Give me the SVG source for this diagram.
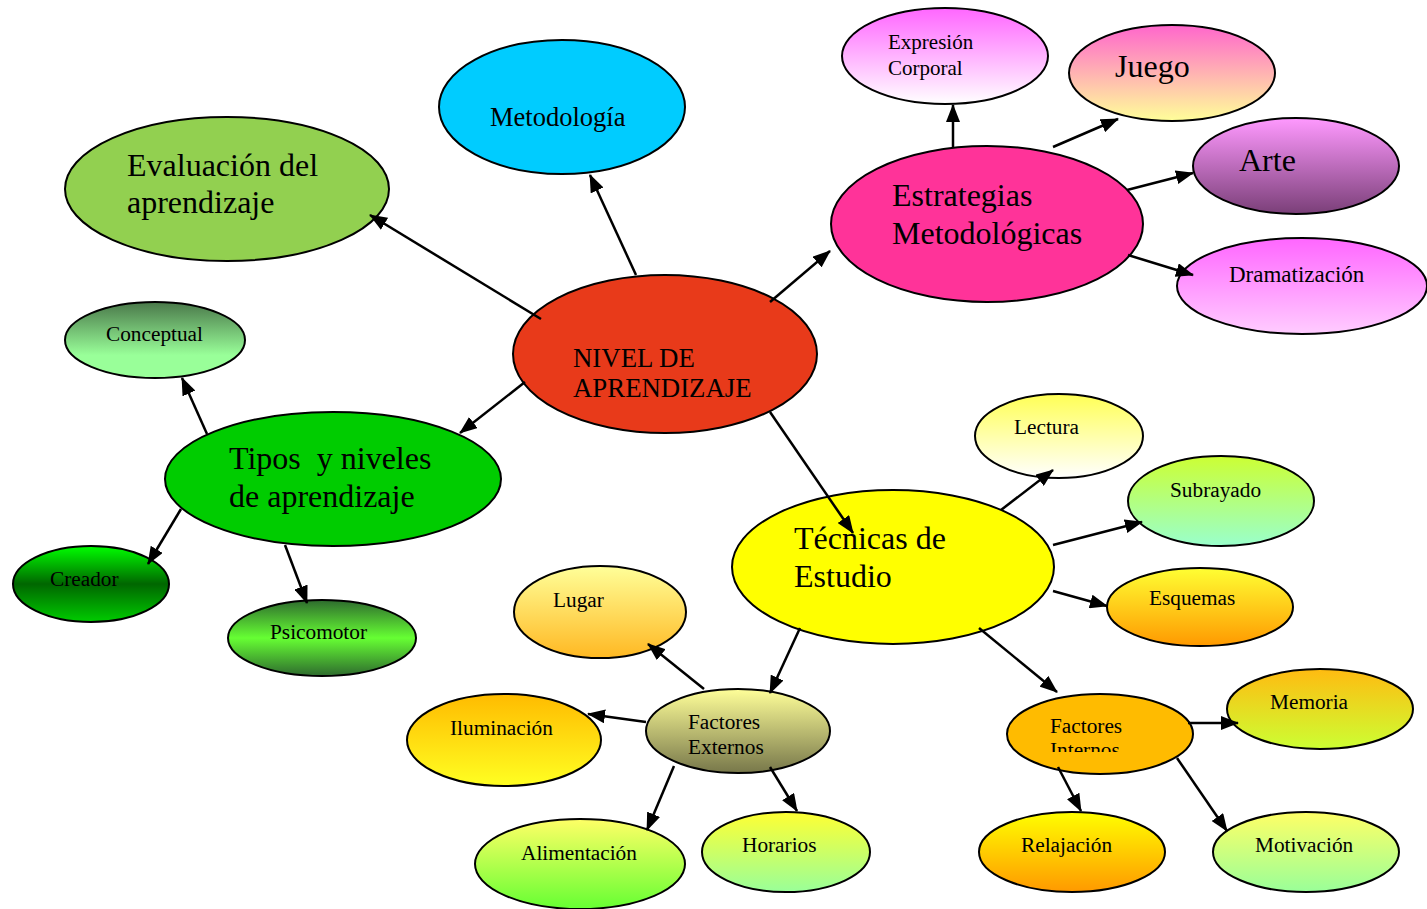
<svg xmlns="http://www.w3.org/2000/svg" width="1427" height="909" viewBox="0 0 1427 909">
<defs>
<style>
ellipse{stroke:#000;stroke-width:2}
text{font-family:"Liberation Serif","Times New Roman",serif;fill:#000}
.big{font-size:32px}
.mid{font-size:26.5px}
.sm{font-size:21.3px}
.conn line{stroke:#000;stroke-width:2.5;marker-end:url(#ah)}
</style>
<marker id="ah" markerUnits="userSpaceOnUse" markerWidth="18" markerHeight="14" refX="17" refY="7" orient="auto"><path d="M0,0 L18,7 L0,14 z" fill="#000"/></marker>
<linearGradient id="gExp" x1="0" y1="0" x2="0" y2="1"><stop offset="0" stop-color="#FF66FF"/><stop offset="1" stop-color="#FFFFFF"/></linearGradient>
<linearGradient id="gJue" x1="0" y1="0" x2="0" y2="1"><stop offset="0" stop-color="#FF66CC"/><stop offset="1" stop-color="#FFFF99"/></linearGradient>
<linearGradient id="gArt" x1="0" y1="0" x2="0" y2="1"><stop offset="0" stop-color="#FF99FF"/><stop offset="1" stop-color="#7A3F78"/></linearGradient>
<linearGradient id="gDra" x1="0" y1="0" x2="0" y2="1"><stop offset="0" stop-color="#FF66FF"/><stop offset="1" stop-color="#FFCCFF"/></linearGradient>
<linearGradient id="gCon" x1="0" y1="0" x2="0" y2="1"><stop offset="0" stop-color="#4A784A"/><stop offset="0.7" stop-color="#99FF99"/><stop offset="1" stop-color="#99FF99"/></linearGradient>
<linearGradient id="gCre" x1="0" y1="0" x2="0" y2="1"><stop offset="0" stop-color="#00FF00"/><stop offset="0.5" stop-color="#006600"/><stop offset="1" stop-color="#00CC00"/></linearGradient>
<linearGradient id="gPsi" x1="0" y1="0" x2="0" y2="1"><stop offset="0" stop-color="#2E6B2E"/><stop offset="0.5" stop-color="#66FF33"/><stop offset="1" stop-color="#2E6B2E"/></linearGradient>
<linearGradient id="gLec" x1="0" y1="0" x2="0" y2="1"><stop offset="0" stop-color="#FFFF55"/><stop offset="1" stop-color="#FFFFFF"/></linearGradient>
<linearGradient id="gSub" x1="0" y1="0" x2="0" y2="1"><stop offset="0" stop-color="#CCFF33"/><stop offset="1" stop-color="#99FFCC"/></linearGradient>
<linearGradient id="gEsq" x1="0" y1="0" x2="0" y2="1"><stop offset="0" stop-color="#FFFF33"/><stop offset="1" stop-color="#FF9900"/></linearGradient>
<linearGradient id="gMem" x1="0" y1="0" x2="0" y2="1"><stop offset="0" stop-color="#FFBB11"/><stop offset="1" stop-color="#CCFF33"/></linearGradient>
<linearGradient id="gRel" x1="0" y1="0" x2="0" y2="1"><stop offset="0" stop-color="#FFFF00"/><stop offset="1" stop-color="#FF9900"/></linearGradient>
<linearGradient id="gMot" x1="0" y1="0" x2="0" y2="1"><stop offset="0" stop-color="#FFFF66"/><stop offset="1" stop-color="#99FF99"/></linearGradient>
<linearGradient id="gLug" x1="0" y1="0" x2="0" y2="1"><stop offset="0" stop-color="#FFFF99"/><stop offset="1" stop-color="#FFB822"/></linearGradient>
<linearGradient id="gFEx" x1="0" y1="0" x2="0" y2="1"><stop offset="0" stop-color="#FFFF99"/><stop offset="1" stop-color="#77774A"/></linearGradient>
<linearGradient id="gIlu" x1="0" y1="0" x2="0" y2="1"><stop offset="0" stop-color="#FFBB00"/><stop offset="1" stop-color="#FFFF22"/></linearGradient>
<linearGradient id="gAli" x1="0" y1="0" x2="0" y2="1"><stop offset="0" stop-color="#FFFF66"/><stop offset="1" stop-color="#66FF33"/></linearGradient>
<linearGradient id="gHor" x1="0" y1="0" x2="0" y2="1"><stop offset="0" stop-color="#FFFF33"/><stop offset="1" stop-color="#99FF99"/></linearGradient>
<clipPath id="cFInt"><rect x="1000" y="690" width="200" height="62"/></clipPath>
</defs>
<rect width="1427" height="909" fill="#fff"/>

<g id="n-nivel"><ellipse cx="665" cy="354" rx="152" ry="79" fill="#E83A1A"/><text x="573" y="367" font-size="26.8">NIVEL DE</text><text x="573" y="397" font-size="26.8">APRENDIZAJE</text></g>
<g id="n-metodologia"><ellipse cx="562" cy="107" rx="123" ry="67" fill="#00CCFF"/><text class="mid" x="490" y="126">Metodología</text></g>
<g id="n-evaluacion"><ellipse cx="227" cy="189" rx="162" ry="72" fill="#92D050"/><text class="big" x="127" y="176">Evaluación del</text><text class="big" x="127" y="213">aprendizaje</text></g>
<g id="n-estrategias"><ellipse cx="987" cy="224" rx="156" ry="78" fill="#FF3399"/><text class="big" x="892" y="206">Estrategias</text><text class="big" x="892" y="244">Metodológicas</text></g>
<g id="n-expresion"><ellipse cx="945" cy="56" rx="103" ry="48" fill="url(#gExp)"/><text x="888" y="49" font-size="21">Expresión</text><text x="888" y="75" font-size="21">Corporal</text></g>
<g id="n-juego"><ellipse cx="1172" cy="73" rx="103" ry="48" fill="url(#gJue)"/><text class="big" x="1115" y="77">Juego</text></g>
<g id="n-arte"><ellipse cx="1296" cy="166" rx="103" ry="48" fill="url(#gArt)"/><text class="big" x="1239" y="171">Arte</text></g>
<g id="n-dramatizacion"><ellipse cx="1302" cy="286" rx="125" ry="48" fill="url(#gDra)"/><text x="1229" y="282" font-size="23">Dramatización</text></g>
<g id="n-tipos"><ellipse cx="333" cy="479" rx="168" ry="67" fill="#00CC00"/><text class="big" x="229" y="469" xml:space="preserve">Tipos  y niveles</text><text class="big" x="229" y="507">de aprendizaje</text></g>
<g id="n-conceptual"><ellipse cx="155" cy="340" rx="90" ry="38" fill="url(#gCon)"/><text class="sm" x="106" y="341">Conceptual</text></g>
<g id="n-creador"><ellipse cx="91" cy="584" rx="78" ry="38" fill="url(#gCre)"/><text class="sm" x="50" y="586">Creador</text></g>
<g id="n-psicomotor"><ellipse cx="322" cy="638" rx="94" ry="38" fill="url(#gPsi)"/><text class="sm" x="270" y="639">Psicomotor</text></g>
<g id="n-tecnicas"><ellipse cx="893" cy="567" rx="161" ry="77" fill="#FFFF00"/><text class="big" x="794" y="549">Técnicas de</text><text class="big" x="794" y="587">Estudio</text></g>
<g id="n-lectura"><ellipse cx="1059" cy="436" rx="84" ry="42" fill="url(#gLec)"/><text class="sm" x="1014" y="434">Lectura</text></g>
<g id="n-subrayado"><ellipse cx="1221" cy="501" rx="93" ry="45" fill="url(#gSub)"/><text class="sm" x="1170" y="497">Subrayado</text></g>
<g id="n-esquemas"><ellipse cx="1200" cy="607" rx="93" ry="39" fill="url(#gEsq)"/><text class="sm" x="1149" y="605">Esquemas</text></g>
<g id="n-finternos"><ellipse cx="1100" cy="734" rx="93" ry="40" fill="#FFBB00"/><g clip-path="url(#cFInt)"><text class="sm" x="1050" y="733">Factores</text><text class="sm" x="1050" y="757">Internos</text></g></g>
<g id="n-memoria"><ellipse cx="1320" cy="709" rx="93" ry="40" fill="url(#gMem)"/><text class="sm" x="1270" y="709">Memoria</text></g>
<g id="n-relajacion"><ellipse cx="1072" cy="852" rx="93" ry="40" fill="url(#gRel)"/><text class="sm" x="1021" y="852">Relajación</text></g>
<g id="n-motivacion"><ellipse cx="1306" cy="852" rx="93" ry="40" fill="url(#gMot)"/><text class="sm" x="1255" y="852">Motivación</text></g>
<g id="n-lugar"><ellipse cx="600" cy="612" rx="86" ry="46" fill="url(#gLug)"/><text class="sm" x="553" y="607">Lugar</text></g>
<g id="n-fexternos"><ellipse cx="738" cy="731" rx="92" ry="42" fill="url(#gFEx)"/><text class="sm" x="688" y="729">Factores</text><text class="sm" x="688" y="754">Externos</text></g>
<g id="n-iluminacion"><ellipse cx="504" cy="740" rx="97" ry="46" fill="url(#gIlu)"/><text class="sm" x="450" y="735">Iluminación</text></g>
<g id="n-alimentacion"><ellipse cx="580" cy="864" rx="105" ry="45" fill="url(#gAli)"/><text class="sm" x="521" y="860">Alimentación</text></g>
<g id="n-horarios"><ellipse cx="786" cy="852" rx="84" ry="40" fill="url(#gHor)"/><text class="sm" x="742" y="852">Horarios</text></g>

<g id="connectors" class="conn">
<line x1="541" y1="319" x2="370" y2="215"/>
<line x1="636" y1="275" x2="590" y2="175"/>
<line x1="770" y1="302" x2="830" y2="251"/>
<line x1="525" y1="382" x2="460" y2="433"/>
<line x1="770" y1="412" x2="853" y2="533"/>
<line x1="953" y1="148" x2="953" y2="105"/>
<line x1="1053" y1="147" x2="1118" y2="119"/>
<line x1="1127" y1="190" x2="1193" y2="173"/>
<line x1="1128" y1="255" x2="1193" y2="275"/>
<line x1="207" y1="434" x2="182" y2="378"/>
<line x1="181" y1="509" x2="148" y2="564"/>
<line x1="285" y1="545" x2="307" y2="603"/>
<line x1="1001" y1="510" x2="1053" y2="470"/>
<line x1="1053" y1="545" x2="1142" y2="522"/>
<line x1="1053" y1="591" x2="1107" y2="606"/>
<line x1="979" y1="628" x2="1057" y2="692"/>
<line x1="800" y1="628" x2="770" y2="693"/>
<line x1="704" y1="689" x2="648" y2="644"/>
<line x1="646" y1="722" x2="588" y2="714"/>
<line x1="674" y1="766" x2="647" y2="830"/>
<line x1="770" y1="767" x2="797" y2="811"/>
<line x1="1188" y1="723" x2="1238" y2="723"/>
<line x1="1058" y1="767" x2="1081" y2="811"/>
<line x1="1177" y1="758" x2="1227" y2="831"/>
</g>
</svg>
